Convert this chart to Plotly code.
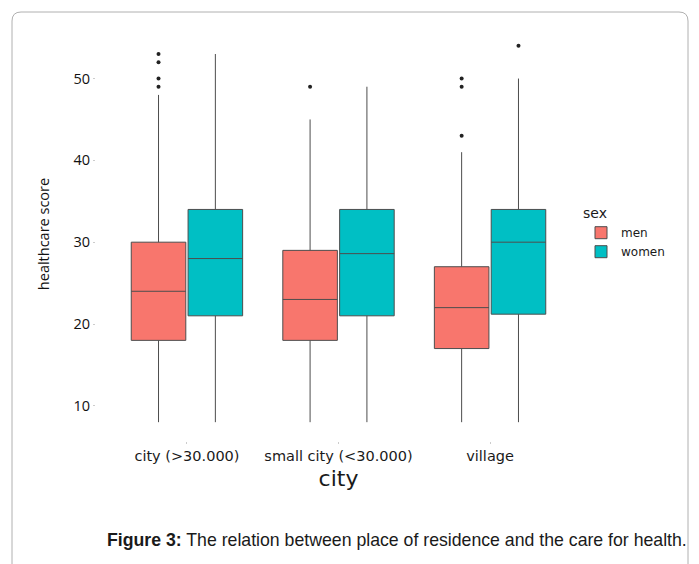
import plotly.graph_objects as go

W, H = 699, 564
OFF = 8  # page body margin that shifts the figure in the browser

categories = ["city (>30.000)", "small city (<30.000)", "village"]
sexes = ["men", "women"]
colors = {"men": "#F8766D", "women": "#00BFC4"}

# box statistics per sex, one value per category
q1 = {"men": [18, 18, 17], "women": [21, 21, 21.2]}
median = {"men": [24, 23, 22], "women": [28, 28.6, 30]}
q3 = {"men": [30, 29, 27], "women": [34, 34, 34]}
lower = {"men": [8, 8, 8], "women": [8, 8, 8]}
upper = {"men": [48, 45, 41], "women": [53, 49, 50]}

# outliers per sex: (category index, value)
out_cat = {"men": [0, 0, 0, 0, 1, 2, 2, 2], "women": [2]}
out_val = {"men": [49, 50, 52, 53, 49, 43, 49, 50], "women": [54]}

offset = {"men": -0.1875, "women": 0.1875}
cat_pos = [1, 2, 3]

def px_x(p):
    return (p - OFF) / W

def px_y(p):
    return 1 - (p - OFF) / H

fig = go.Figure()
for s in sexes:
    xs = [c + offset[s] for c in cat_pos]
    fig.add_trace(go.Box(
        x=xs, q1=q1[s], median=median[s], q3=q3[s],
        lowerfence=lower[s], upperfence=upper[s],
        name=s, fillcolor=colors[s],
        line=dict(color="#4d4d4d", width=1),
        width=0.36, whiskerwidth=0, boxpoints=False,
        hoverinfo="skip",
    ))
for s in sexes:
    fig.add_trace(go.Scatter(
        x=[cat_pos[i] + offset[s] for i in out_cat[s]], y=out_val[s],
        mode="markers", marker=dict(color="#222222", size=4),
        showlegend=False, hoverinfo="skip",
    ))

font_main = "Open Sans, Noto Sans, sans-serif"
font_wide = "DejaVu Sans, sans-serif"

# frame border (rounded, open at bottom)
x0, x1, y0, r = 12, 688, 12, 9
path = (f"M {px_x(x0)} {px_y(H + 20)} L {px_x(x0)} {px_y(y0 + r)} "
        f"Q {px_x(x0)} {px_y(y0)} {px_x(x0 + r)} {px_y(y0)} "
        f"L {px_x(x1 - r)} {px_y(y0)} "
        f"Q {px_x(x1)} {px_y(y0)} {px_x(x1)} {px_y(y0 + r)} "
        f"L {px_x(x1)} {px_y(H + 20)}")

fig.update_layout(
    width=W, height=H,
    margin=dict(l=0, r=0, t=0, b=0),
    paper_bgcolor="white", plot_bgcolor="white",
    font=dict(family=font_main, color="#1a1a1a"),
    xaxis=dict(
        domain=[px_x(96), px_x(581)], range=[0.4, 3.6],
        tickvals=cat_pos, ticktext=categories,
        ticks="outside", ticklen=2, tickcolor="#cccccc",
        showgrid=False, zeroline=False, showline=False,
        tickfont=dict(family=font_wide, size=14.5, color="#1a1a1a"),
        title=dict(text="city", font=dict(family=font_wide, size=22, color="#1a1a1a"), standoff=7),
    ),
    yaxis=dict(
        domain=[px_y(441), px_y(27)], range=[5.7, 56.3],
        tickvals=[10, 20, 30, 40, 50],
        ticks="outside", ticklen=2, tickcolor="#cccccc",
        showgrid=False, zeroline=False, showline=False,
        tickfont=dict(size=14.5, color="#111111"),
        title=dict(text="healthcare score", font=dict(size=14.5, color="#111111"), standoff=20),
    ),
    legend=dict(
        x=px_x(581), y=px_y(200), xanchor="left", yanchor="top",
        title=dict(text="sex", font=dict(family=font_wide, size=14, color="#1a1a1a")),
        font=dict(family=font_wide, size=12, color="#1a1a1a"),
        bgcolor="rgba(0,0,0,0)", tracegroupgap=0, itemwidth=30,
    ),
    shapes=[dict(type="path", path=path, xref="paper", yref="paper",
                 line=dict(color="#b0b0b0", width=1))],
    annotations=[dict(
        text="<b>Figure 3:</b> The relation between place of residence and the care for health.",
        x=px_x(397), y=px_y(540), xref="paper", yref="paper",
        showarrow=False, xanchor="center", yanchor="middle",
        font=dict(family="Liberation Sans, Arial, sans-serif", size=17.7, color="#1a1a1a"),
    )],
)

fig.write_html("out.html")
